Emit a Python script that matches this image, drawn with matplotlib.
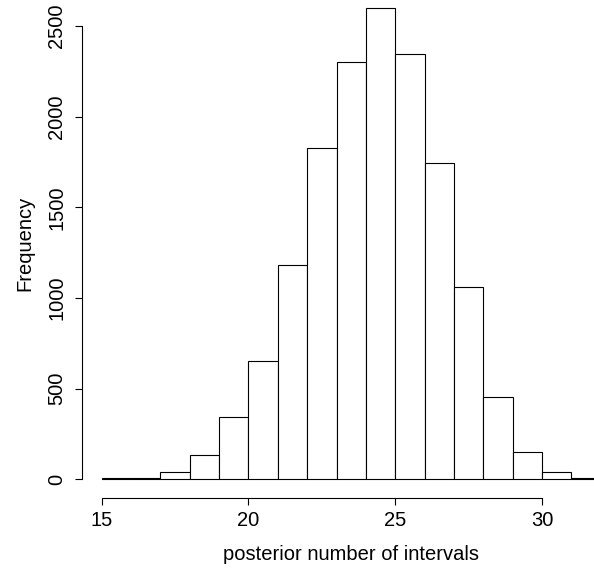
import numpy as np
import matplotlib.pyplot as plt

plt.rcParams['font.family'] = ['Liberation Sans', 'DejaVu Sans']

# histogram bins (width 1) and counts
bin_edges = np.arange(15, 33)
counts = [9, 7, 39, 134, 344, 655, 1183, 1828, 2300, 2600, 2344, 1744, 1061, 454, 149, 39, 7]
x_ticks = [15, 20, 25, 30]
y_ticks = [0, 500, 1000, 1500, 2000, 2500]

W, H = 594, 569
fig = plt.figure(figsize=(W / 100, H / 100), dpi=100)
# plot region: left at px 81.7, bottom at px 498.3, reaching past top/right
ax = fig.add_axes([81.7 / W, (H - 498.3) / H, 1 - 81.7 / W, 498.3 / H])

ax.bar(bin_edges[:-1], counts, width=1, align='edge',
       facecolor='white', edgecolor='black', linewidth=0.8)

ax.set_xlim(14.32, 31.77)
ax.set_ylim(-104, 2643)

# R-style axes: lines only span the tick range
for s in ['top', 'right']:
    ax.spines[s].set_visible(False)
ax.spines['left'].set_bounds(0, 2500)
ax.spines['bottom'].set_bounds(15, 30)
ax.spines['left'].set_linewidth(0.8)
ax.spines['bottom'].set_linewidth(0.8)

fs = 14.5
ax.set_xticks(x_ticks)
ax.set_yticks(y_ticks)
ax.set_yticklabels([str(v) for v in y_ticks], rotation=90, va='center')
ax.tick_params(axis='both', direction='out', length=5, width=0.8, labelsize=fs)
ax.tick_params(axis='x', pad=4)
ax.tick_params(axis='y', pad=6)

# axis titles centred on the plot region, like R does
fig.text(351 / W, 1 - 555 / H, 'posterior number of intervals',
         ha='center', va='center', fontsize=fs)
fig.text(25 / W, 1 - 243.5 / H, 'Frequency', rotation=90,
         ha='center', va='center', fontsize=fs)

fig.savefig('out.png', dpi=100)
